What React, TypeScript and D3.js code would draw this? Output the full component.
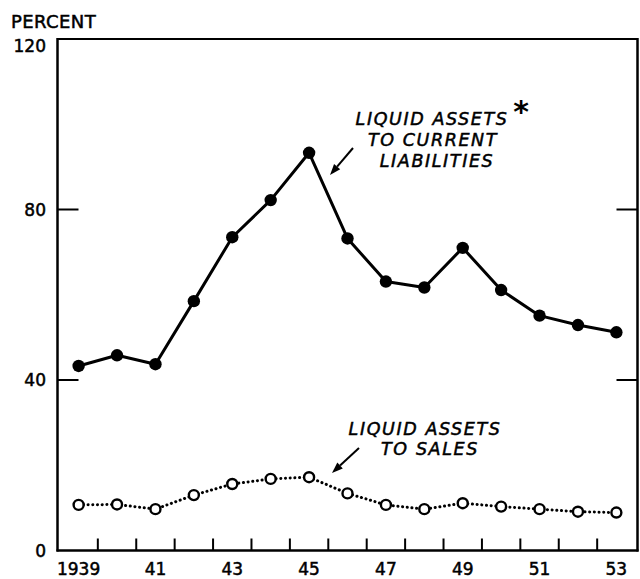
import React from "react";
import * as d3 from "d3";

const years = [1939, 1940, 1941, 1942, 1943, 1944, 1945, 1946, 1947, 1948, 1949, 1950, 1951, 1952, 1953];
const liquidToLiabilities = [43.3, 45.8, 43.7, 58.5, 73.5, 82.2, 93.3, 73.2, 63.1, 61.7, 71.0, 61.1, 55.1, 52.9, 51.2];
const liquidToSales = [10.7, 10.8, 9.7, 13.0, 15.6, 16.8, 17.2, 13.4, 10.7, 9.7, 11.1, 10.3, 9.7, 9.1, 8.9];
const xTickLabels = [
  { year: 1939, label: "1939" },
  { year: 1941, label: "41" },
  { year: 1943, label: "43" },
  { year: 1945, label: "45" },
  { year: 1947, label: "47" },
  { year: 1949, label: "49" },
  { year: 1951, label: "51" },
  { year: 1953, label: "53" },
];
const yTicks = [0, 40, 80, 120];
const innerYTicks = [40, 80];
const minorXTicks = [1939.5, 1940.5, 1941.5, 1942.5, 1943.5, 1944.5, 1945.5, 1946.5, 1947.5, 1948.5, 1949.5, 1950.5, 1951.5, 1952.5];

const FONT = "'DejaVu Sans', sans-serif";

function Arrow({ x1, y1, x2, y2 }: { x1: number; y1: number; x2: number; y2: number }) {
  const ang = Math.atan2(y2 - y1, x2 - x1);
  const len = 11;
  const w = 4;
  const bx = x2 - len * Math.cos(ang);
  const by = y2 - len * Math.sin(ang);
  const px = -Math.sin(ang) * w;
  const py = Math.cos(ang) * w;
  return (
    <g>
      <line x1={x1} y1={y1} x2={bx} y2={by} stroke="#000" strokeWidth={2} />
      <polygon points={`${x2},${y2} ${bx + px},${by + py} ${bx - px},${by - py}`} fill="#000" />
    </g>
  );
}

export default function App() {
  const left = 57.5, right = 637.5, top = 39, bottom = 550.5;
  const x = d3.scaleLinear().domain([1938.45, 1953.55]).range([left, right]);
  const y = d3.scaleLinear().domain([0, 120]).range([bottom, top]);

  const line = d3.line<number>().x((_, i) => x(years[i])).y((d) => y(d));

  const textStroke = { stroke: "#000", strokeWidth: 0.5 };

  return (
    <svg width={640} height={579} style={{ position: "absolute", left: 0, top: 0, background: "#fff" }}>
      <rect x={0} y={0} width={640} height={579} fill="#fff" />
      {/* frame */}
      <line x1={left} y1={top} x2={right} y2={top} stroke="#000" strokeWidth={2} />
      <line x1={left} y1={top - 1} x2={left} y2={bottom + 1} stroke="#000" strokeWidth={2.5} />
      <line x1={right} y1={top - 1} x2={right} y2={bottom + 1} stroke="#000" strokeWidth={2.5} />
      <line x1={left - 1} y1={bottom} x2={right + 1} y2={bottom} stroke="#000" strokeWidth={2.5} />

      {/* inner y ticks */}
      {innerYTicks.map((v) => (
        <g key={v}>
          <line x1={left} x2={left + 21} y1={y(v)} y2={y(v)} stroke="#000" strokeWidth={2} />
          <line x1={right - 21} x2={right} y1={y(v)} y2={y(v)} stroke="#000" strokeWidth={2} />
        </g>
      ))}
      {/* x minor ticks */}
      {minorXTicks.map((t) => (
        <line key={t} x1={x(t)} x2={x(t)} y1={bottom} y2={bottom - 12} stroke="#000" strokeWidth={2} />
      ))}

      {/* y labels */}
      {yTicks.map((v) => (
        <text key={v} x={46} y={Math.max(y(v) + 6, 52)} textAnchor="end" fontFamily={FONT} fontSize={17} fill="#000" {...textStroke}>
          {v}
        </text>
      ))}
      <text x={11} y={28} fontFamily={FONT} fontSize={18} letterSpacing={0.4} fill="#000" {...textStroke}>PERCENT</text>

      {/* x labels */}
      {xTickLabels.map((d) => (
        <text key={d.year} x={x(d.year)} y={575} textAnchor="middle" fontFamily={FONT} fontSize={17} fill="#000" {...textStroke}>
          {d.label}
        </text>
      ))}

      {/* liabilities series */}
      <path d={line(liquidToLiabilities) || ""} fill="none" stroke="#000" strokeWidth={3} strokeLinejoin="round" />
      {liquidToLiabilities.map((v, i) => (
        <circle key={i} cx={x(years[i])} cy={y(v)} r={6.2} fill="#000" />
      ))}

      {/* sales series */}
      <path
        d={line(liquidToSales) || ""}
        fill="none"
        stroke="#000"
        strokeWidth={3}
        strokeLinecap="round"
        strokeDasharray="0.1 4.6"
      />
      {liquidToSales.map((v, i) => (
        <circle key={i} cx={x(years[i])} cy={y(v)} r={5} fill="#fff" stroke="#000" strokeWidth={2.4} />
      ))}

      {/* annotations */}
      <g fontFamily={FONT} fontStyle="italic" fontSize={17.5} fill="#000" textAnchor="middle" letterSpacing={1.6} {...textStroke}>
        <text x={432} y={125}>LIQUID ASSETS</text>
        <text x={433} y={146}>TO CURRENT</text>
        <text x={437} y={167}>LIABILITIES</text>
        <text x={425} y={435}>LIQUID ASSETS</text>
        <text x={430} y={455}>TO SALES</text>
      </g>
      <text x={521} y={122} textAnchor="middle" fontFamily={FONT} fontWeight="bold" fontSize={30} fill="#000">*</text>
      <Arrow x1={353} y1={148} x2={330} y2={175} />
      <Arrow x1={359} y1={448} x2={332} y2={473} />
    </svg>
  );
}
